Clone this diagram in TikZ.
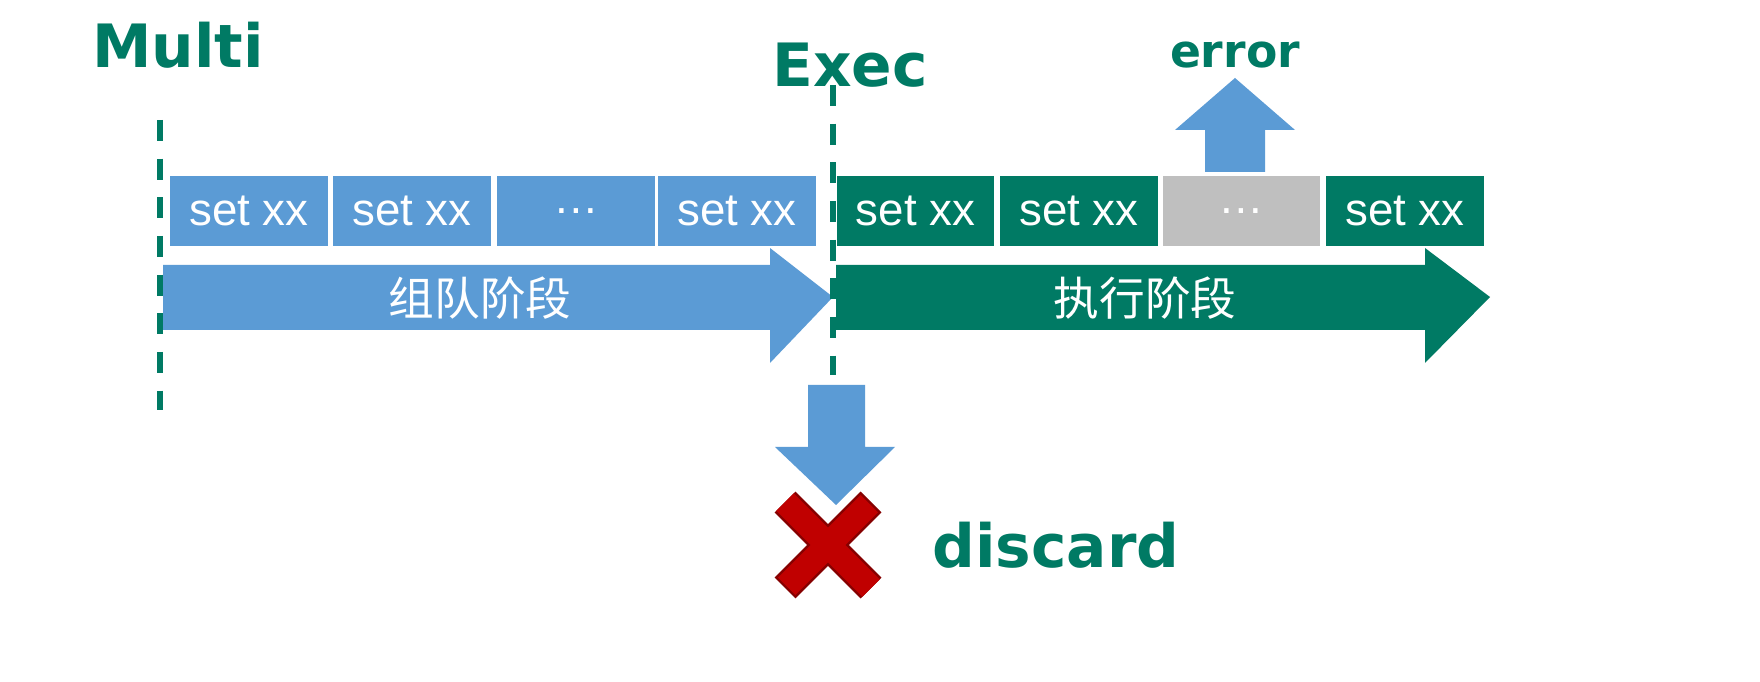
\documentclass[tikz,border=0pt]{standalone}
\usepackage{fontspec}
\setmainfont{Liberation Sans}
\newfontfamily\headfont{DejaVu Sans}
\newfontfamily\cjk{Noto Sans CJK SC}
\usetikzlibrary{positioning}
\definecolor{tgreen}{RGB}{0,122,100}
\definecolor{tblue}{RGB}{91,155,213}
\definecolor{tgray}{RGB}{191,191,191}
\definecolor{tred}{RGB}{192,0,0}
\tikzset{
  cmdbox/.style={draw=white,line width=0.6pt,fill=tblue,text=white,minimum width=1.6cm,minimum height=0.72cm,inner sep=0pt,font=\fontsize{13}{15}\selectfont},
  stage/.style={text=white,font=\cjk\fontsize{13}{15}\selectfont},
  tag/.style={text=tgreen,font=\headfont\bfseries\fontsize{17}{20}\selectfont},
  phase/.style={tgreen,line width=1.5pt,dash pattern=on 6pt off 5pt}
}
\begin{document}
\begin{tikzpicture}[x=1cm,y=-1cm]
                \fill[white] (0,0) rectangle (17.6,6.82);
                \useasboundingbox (0,0) rectangle (17.6,6.82);
                % stage arrows
                \fill[tblue] (1.63,2.65) -- (7.7,2.65) -- (7.7,2.48) -- (8.33,2.97) -- (7.7,3.63) -- (7.7,3.3) -- (1.63,3.3) -- cycle;
                \fill[tgreen] (8.36,2.65) -- (14.25,2.65) -- (14.25,2.48) -- (14.9,2.97) -- (14.25,3.63) -- (14.25,3.3) -- (8.36,3.3) -- cycle;
                \node[stage] (queue) at (4.8,2.98) {组队阶段};
                \node[stage] (run) at (11.45,2.98) {执行阶段};
                % queued commands
                \node[cmdbox] (q1) at (2.49,2.11) {set xx};
                \node[cmdbox] (q2) at (4.12,2.11) {set xx};
                \node[cmdbox] (q3) at (5.76,2.11) {\ldots};
                \node[cmdbox] (q4) at (7.37,2.11) {set xx};
                % executed commands
                \node[cmdbox,fill=tgreen] (e1) at (9.155,2.11) {set xx};
                \node[cmdbox,fill=tgreen] (e2) at (10.79,2.11) {set xx};
                \node[cmdbox,fill=tgray] (e3) at (12.415,2.11) {\ldots};
                \node[cmdbox,fill=tgreen] (e4) at (14.05,2.11) {set xx};
                % markers
                \node[tag,anchor=west] (multi) at (0.8,0.45) {Multi};
                \node[tag,anchor=west] (exec) at (7.6,0.65) {Exec};
                \coordinate (m1) at (1.6,1.2);
                \coordinate (m2) at (1.6,4.1);
                \coordinate (x1) at (8.33,0.85);
                \coordinate (x2) at (8.33,3.75);
                \draw[phase] (m1) -- (m2);
                \draw[phase] (x1) -- (x2);
                % error
                \fill[tblue] (12.05,1.72) -- (12.05,1.3) -- (11.75,1.3) -- (12.35,0.78) -- (12.95,1.3) -- (12.65,1.3) -- (12.65,1.72) -- cycle;
                \node[tag,font=\headfont\bfseries\fontsize{13}{15}\selectfont] (err) at (12.35,0.55) {error};
                % discard
                \fill[tblue] (8.08,3.85) -- (8.65,3.85) -- (8.65,4.47) -- (8.95,4.47) -- (8.36,5.05) -- (7.75,4.47) -- (8.08,4.47) -- cycle;
                \coordinate (c1) at (7.85,5.02);
                \coordinate (c2) at (8.71,5.88);
                \coordinate (c3) at (7.85,5.88);
                \coordinate (c4) at (8.71,5.02);
                \draw[tred!70!black,line width=8.4pt] (c1) -- (c2) (c3) -- (c4);
                \draw[tred,line width=7pt,shorten <=0.7pt,shorten >=0.7pt] (c1) -- (c2) (c3) -- (c4);
                \node[tag,anchor=west] (disc) at (9.2,5.45) {discard};
            \end{tikzpicture}
\end{document}
